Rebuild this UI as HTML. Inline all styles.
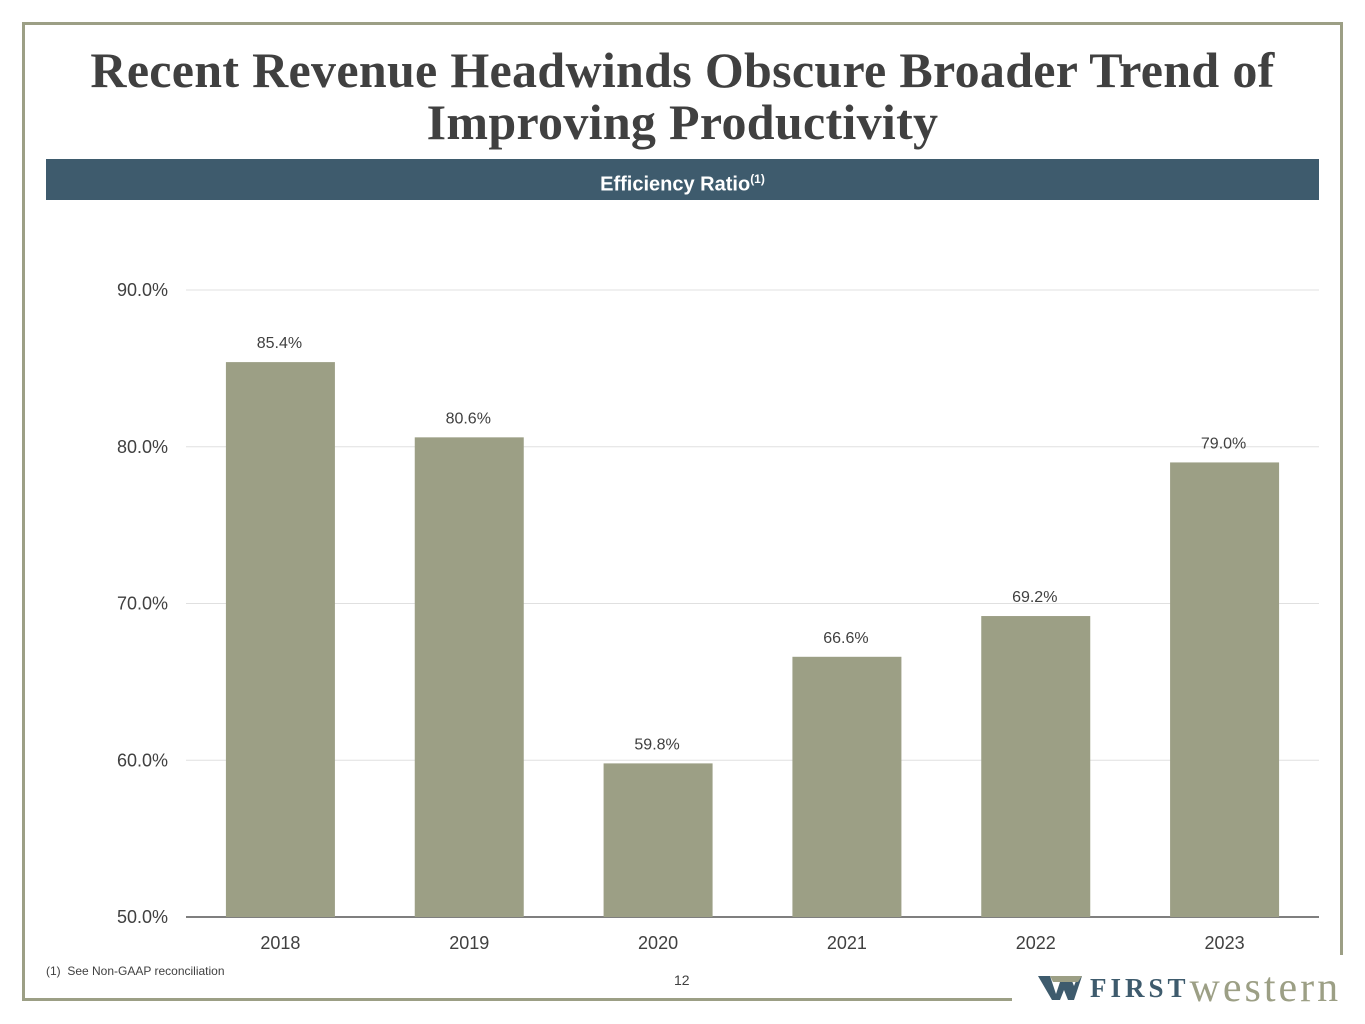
<!DOCTYPE html>
<html><head><meta charset="utf-8"><style>
body{margin:0;width:1365px;height:1024px;background:#fff;position:relative;overflow:hidden;font-family:"Liberation Sans",sans-serif;}
.b{position:absolute;background:#9c9f85;}
h1{position:absolute;left:0;width:1365px;top:44px;margin:0;text-align:center;font-family:"Liberation Serif",serif;font-weight:bold;font-size:50px;line-height:52px;color:#404040;letter-spacing:0.3px;}
#band{position:absolute;left:46px;top:159px;width:1273px;height:41px;background:#3e5b6d;color:#fff;text-align:center;font-weight:bold;font-size:20px;line-height:40px;}
</style></head><body>
<div class="b" style="left:22px;top:22px;width:1321px;height:3px"></div>
<div class="b" style="left:22px;top:22px;width:3px;height:979px"></div>
<div class="b" style="left:1340px;top:22px;width:3px;height:933px"></div>
<div class="b" style="left:22px;top:998px;width:990px;height:3px"></div>
<h1>Recent Revenue Headwinds Obscure Broader Trend of<br>Improving Productivity</h1>
<div id="band">Efficiency Ratio<sup style="font-size:12px">(1)</sup></div>
<svg id="chart" width="1365" height="1024" style="position:absolute;left:0;top:0"></svg>
<div style="position:absolute;left:46px;top:964px;font-size:12px;color:#404040">(1)&nbsp; See Non-GAAP reconciliation</div>
<div style="position:absolute;left:674px;top:972px;font-size:14px;color:#404040">12</div>
<div style="position:absolute;left:1038px;top:968px;height:40px;display:flex;align-items:center;white-space:nowrap">
<svg width="44" height="28" viewBox="0 0 44 28"><polygon points="0,2 12,2 18,20 24,2 32,2 36,12 40,2 44,2 36,26 30,26 26,16 22,26 14,26" fill="#3e5b6d"/><polygon points="12,2 44,2 40,8 15,8" fill="#9c9f85"/></svg>
<span style="font-family:'Liberation Serif',serif;font-weight:bold;font-size:27px;color:#3e5b6d;letter-spacing:4px;margin-left:8px">FIRST</span><span style="font-family:'Liberation Serif',serif;font-size:42px;color:#9c9f85;letter-spacing:3px">western</span>
</div>
<script>
const categories=["2018","2019","2020","2021","2022","2023"];
const values=[85.4,80.6,59.8,66.6,69.2,79.0];
const ticks=[50,60,70,80,90];
const svg=document.getElementById('chart');
const NS='http://www.w3.org/2000/svg';
const x0=186,x1=1319,yMin=50,yMax=90,py0=917,py1=290;
const y=v=>py0-(v-yMin)/(yMax-yMin)*(py0-py1);
const step=(x1-x0)/categories.length;
const xc=i=>x0+step*(i+0.5);
function mk(t,a){const e=document.createElementNS(NS,t);for(const k in a)e.setAttribute(k,a[k]);svg.appendChild(e);return e;}
ticks.forEach(t=>{
 const g=mk('line',{x1:x0,x2:x1,y1:y(t),y2:y(t),stroke:t===50?'#555':'#e0e0e0','stroke-width':t===50?1.5:1});
 
 
 const l=mk('text',{x:168,y:y(t)+6,'text-anchor':'end','font-size':18,fill:'#404040','font-family':'Liberation Sans, sans-serif'});
 l.textContent=t.toFixed(1)+'%';
 
 
});
categories.forEach((c,i)=>{
 const v=values[i];
 const r=mk('rect',{x:xc(i)-54.5,y:y(v),width:109,height:py0-y(v),fill:'#9c9f85'});
 
 
 const t=mk('text',{x:xc(i)-1,y:y(v)-14,'text-anchor':'middle','font-size':16,fill:'#404040','font-family':'Liberation Sans, sans-serif'});
 t.textContent=v.toFixed(1)+'%';
 
 
 const xl=mk('text',{x:xc(i),y:949,'text-anchor':'middle','font-size':18,fill:'#404040','font-family':'Liberation Sans, sans-serif'});
 xl.textContent=c;
 
 
});
</script>
</body></html>
